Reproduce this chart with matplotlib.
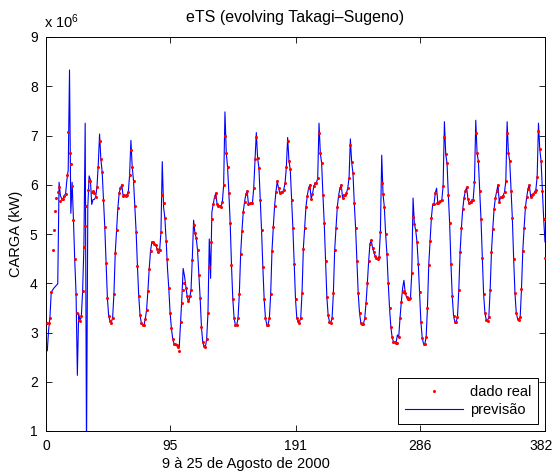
import matplotlib
matplotlib.use("Agg")
import matplotlib.pyplot as plt
import matplotlib.transforms as mtransforms
import numpy as np

plt.rcParams['font.family'] = ['Liberation Sans', 'DejaVu Sans']
plt.rcParams['mathtext.default'] = 'regular'

# carga horaria real (x 10^6 kW), um dia por lista, 9 a 25 de agosto de 2000
d00 = [3.19,3.19,3.3,3.82,4.67,5.08,5.47,5.73,5.86,5.95,5.68,5.72,5.72,5.78,5.82,6.19,7.07,6.64,6.42,5.97,5.28,4.49,3.78,3.4]
d01 = [3.25,3.24,3.33,3.84,4.74,5.16,5.57,5.9,6.08,6.08,5.86,5.87,5.83,5.75,5.95,6.36,6.89,6.52,6.26,5.7,5.14,4.41,3.7,3.33]
d02 = [3.24,3.2,3.3,3.78,4.61,5.08,5.52,5.83,5.93,6.0,5.78,5.8,5.77,5.8,5.85,6.2,6.71,6.36,6.08,5.57,5.04,4.35,3.74,3.35]
d03 = [3.19,3.15,3.15,3.27,3.46,3.84,4.29,4.65,4.84,4.84,4.8,4.78,4.7,4.63,4.67,5.04,5.8,5.62,5.32,4.86,4.49,3.9,3.4,3.09]
d04 = [2.87,2.77,2.77,2.75,2.7,2.62,3.21,3.6,3.86,4.0,3.9,3.74,3.64,3.75,3.86,4.47,5.18,5.02,4.92,4.67,4.17,3.7,3.11,2.8]
d05 = [2.72,2.7,2.87,3.4,4.33,4.84,5.3,5.6,5.75,5.83,5.6,5.57,5.57,5.55,5.65,6.0,7.0,6.65,6.36,5.83,5.22,4.37,3.68,3.29]
d06 = [3.15,3.15,3.29,3.78,4.59,5.06,5.45,5.65,5.81,5.87,5.6,5.62,5.62,5.62,5.93,6.52,6.97,6.54,6.34,5.69,5.08,4.33,3.68,3.29]
d07 = [3.16,3.16,3.29,3.78,4.66,5.14,5.57,5.85,6.07,5.93,5.83,5.85,5.85,5.9,6.03,6.36,6.89,6.48,6.31,5.69,5.12,4.39,3.68,3.29]
d08 = [3.23,3.2,3.3,3.8,4.7,5.12,5.55,5.77,5.93,6.0,5.71,5.81,5.97,6.03,6.03,6.14,7.05,6.64,6.44,5.79,5.22,4.45,3.72,3.35]
d09 = [3.22,3.2,3.29,3.8,4.68,5.13,5.55,5.78,5.93,6.0,5.74,5.8,5.8,5.83,5.93,6.14,6.8,6.46,6.23,5.62,5.12,4.45,3.8,3.4]
d10 = [3.2,3.17,3.17,3.29,3.6,4.0,4.45,4.8,4.88,4.71,4.63,4.55,4.51,4.5,4.54,5.04,6.04,5.81,5.55,5.0,4.59,4.0,3.49,3.11]
d11 = [2.9,2.81,2.8,2.79,2.78,2.9,3.29,3.62,3.82,3.84,3.8,3.72,3.68,3.68,3.7,4.2,5.34,5.2,5.08,4.84,4.39,3.82,3.21,2.89]
d12 = [2.77,2.77,2.9,3.49,4.37,4.86,5.32,5.6,5.6,5.83,5.62,5.62,5.65,5.67,5.69,5.97,6.97,6.62,6.44,5.79,5.22,4.39,3.74,3.33]
d13 = [3.22,3.22,3.31,3.86,4.63,5.12,5.5,5.73,5.87,5.95,5.71,5.62,5.65,5.69,5.69,6.05,7.05,6.64,6.48,5.87,5.3,4.51,3.78,3.4]
d14 = [3.26,3.24,3.31,3.86,4.63,5.1,5.5,5.73,5.87,6.0,5.65,5.75,5.75,5.78,5.85,6.07,7.05,6.64,6.48,5.88,5.32,4.5,3.8,3.4]
d15 = [3.28,3.26,3.31,3.88,4.66,5.12,5.54,5.75,5.92,6.0,5.76,5.8,5.81,5.85,5.9,6.16,7.1,6.72,6.48,5.87,5.3,4.51]

# previsao do eTS
p00 = [2.63,3.05,3.3,3.82,3.86,3.9,3.93,3.96,3.99,6.05,5.78,5.72,5.72,5.78,5.82,6.1,6.3,8.33,5.42,6.05,5.3,4.47,3.8,2.13]
p01 = [3.39,3.25,3.3,3.82,4.72,7.25,0.6,5.55,6.18,6.1,5.6,5.7,5.7,5.75,5.95,6.4,7.03,6.52,6.26,5.7,5.14,4.41,3.7,3.33]
p02 = [3.24,3.2,3.3,3.78,4.61,5.08,5.52,5.83,5.93,6.0,5.78,5.8,5.77,5.8,5.85,6.2,6.9,6.36,6.08,5.57,5.04,4.35,3.74,3.35]
p03 = [3.19,3.15,3.15,3.27,3.46,3.84,4.29,4.65,4.84,4.84,4.8,4.78,4.7,4.63,4.67,5.04,6.47,5.55,5.32,4.86,4.3,3.9,3.4,3.09]
p04 = [2.87,2.77,2.77,2.75,2.7,2.7,3.21,3.7,4.3,4.15,3.95,3.75,3.62,3.7,3.86,4.5,5.28,5.02,4.92,4.67,4.17,3.7,3.11,2.8]
p05 = [2.72,2.7,2.87,3.4,4.9,4.1,5.45,5.6,5.75,5.83,5.6,5.57,5.57,5.55,5.65,6.0,7.48,6.65,6.36,5.83,5.22,4.37,3.68,3.29]
p06 = [3.15,3.15,3.29,3.78,4.59,5.06,5.45,5.65,5.81,5.87,5.6,5.62,5.62,5.62,5.93,6.52,7.06,6.54,6.34,5.69,5.08,4.33,3.68,3.29]
p07 = [3.16,3.16,3.29,3.78,4.66,5.14,5.57,5.85,6.07,5.93,5.83,5.85,5.85,5.9,6.03,6.36,6.96,6.48,6.31,5.69,5.12,4.39,3.68,3.29]
p08 = [3.23,3.2,3.3,3.8,4.7,5.12,5.55,5.77,5.93,6.0,5.71,5.81,5.97,6.03,6.03,6.14,7.25,6.64,6.44,5.79,5.22,4.45,3.72,3.35]
p09 = [3.22,3.2,3.29,3.8,4.68,5.13,5.55,5.78,5.93,6.0,5.74,5.8,5.8,5.83,5.93,6.14,6.93,6.46,6.23,5.62,5.12,4.45,3.8,3.4]
p10 = [3.2,3.17,3.17,3.29,3.6,4.0,4.45,4.8,4.88,4.71,4.63,4.55,4.51,4.5,4.54,5.04,6.6,5.81,5.55,5.0,4.59,4.0,3.49,3.11]
p11 = [2.9,2.81,2.8,2.79,2.95,2.9,3.29,3.62,3.9,4.06,3.8,3.72,3.68,3.68,3.7,4.2,5.73,5.2,5.08,4.84,4.39,3.82,3.21,2.89]
p12 = [2.77,2.77,2.9,3.49,4.37,4.86,5.32,5.6,5.6,5.83,5.93,5.62,5.65,5.67,5.69,5.97,7.28,6.62,6.44,5.79,5.22,4.39,3.74,3.33]
p13 = [3.22,3.22,3.31,3.86,4.63,5.12,5.5,5.73,5.87,5.95,5.71,5.62,5.65,5.69,5.69,6.05,7.31,6.64,6.48,5.87,5.3,4.51,3.78,3.4]
p14 = [3.26,3.24,3.31,3.86,4.63,5.1,5.5,5.73,5.87,6.0,5.65,5.75,5.75,5.78,5.85,6.07,7.28,6.64,6.48,5.88,5.32,4.5,3.8,3.4]
p15 = [3.28,3.26,3.31,3.88,4.66,5.12,5.54,5.75,5.92,6.0,5.76,5.8,5.81,5.85,5.9,6.16,7.25,6.72,6.48,5.87,5.3,4.84]

real = np.array(d00+d01+d02+d03+d04+d05+d06+d07+d08+d09+d10+d11+d12+d13+d14+d15)
prev = np.array(p00+p01+p02+p03+p04+p05+p06+p07+p08+p09+p10+p11+p12+p13+p14+p15)
horas = np.arange(1, len(real)+1)

xticks = [0, 95, 191, 286, 382]
yticks = [1, 2, 3, 4, 5, 6, 7, 8, 9]

fig = plt.figure(figsize=(5.55, 4.71), dpi=100)
ax = fig.add_axes([46/555, 1-431/471, 499/555, 394/471])

ax.plot(horas, real, 'o', color='red', ms=2.2, mec='none', label='dado real', zorder=3)
ax.plot(horas, prev, '-', color='blue', lw=0.8, label='previsão', zorder=2)

ax.set_xlim(0, 382)
ax.set_ylim(1, 9)
ax.set_xticks(xticks)
ax.set_yticks(yticks)
ax.tick_params(direction='in', top=True, right=True, length=4, width=0.6, labelsize=10, pad=6)
for s in ax.spines.values():
    s.set_linewidth(0.7)

# ultimo rotulo do eixo x um pouco para a esquerda, para caber na figura
lbl = ax.get_xticklabels()[-1]
lbl.set_transform(lbl.get_transform() + mtransforms.ScaledTranslation(-0.035, 0, fig.dpi_scale_trans))

ax.set_title('eTS (evolving Takagi–Sugeno)', fontsize=11.5, pad=11)
ax.set_xlabel('9 à 25 de Agosto de 2000', fontsize=10.5)
ax.xaxis.set_label_coords(0.4, -0.065)
ax.set_ylabel('CARGA (kW)', fontsize=10.5, labelpad=5)
ax.text(-0.004, 1.014, 'x 10$^{6}$', transform=ax.transAxes, ha='left', va='bottom', fontsize=10.5)

leg = ax.legend(loc='lower right', fontsize=10.5, handlelength=4.0, handletextpad=0.45,
                fancybox=False, edgecolor='black', framealpha=1, borderaxespad=0.5,
                borderpad=0.45, labelspacing=0.3, markerscale=1.0)
leg.get_frame().set_linewidth(0.7)

fig.savefig('out.png', dpi=100)
